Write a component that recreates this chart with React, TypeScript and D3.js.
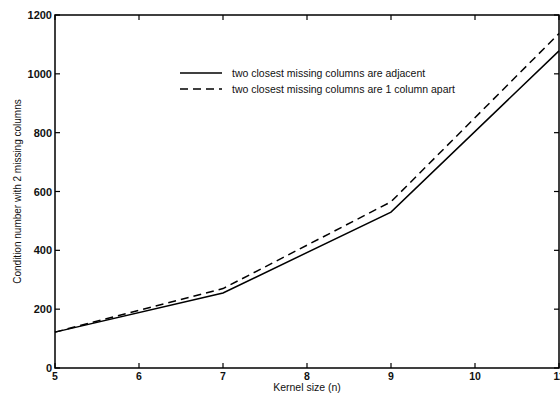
import React from "react";
import * as d3 from "d3";

const kernelSizes = [5, 7, 9, 11];
const adjacent = [122, 255, 530, 1078];
const oneApart = [122, 270, 565, 1137];
const xTicks = [5, 6, 7, 8, 9, 10, 11];
const yTicks = [0, 200, 400, 600, 800, 1000, 1200];
const seriesNames = [
  "two closest missing columns are adjacent",
  "two closest missing columns are 1 column apart",
];

const W = 560;
const H = 395;
const left = 55;
const right = 559;
const top = 15;
const bottom = 368;

export default function App() {
  const x = d3.scaleLinear().domain([5, 11]).range([left, right]);
  const y = d3.scaleLinear().domain([0, 1200]).range([bottom, top]);
  const line = d3
    .line<number>()
    .x((_, i) => x(kernelSizes[i]))
    .y((d) => y(d));
  const font = "'Liberation Sans', Arial, Helvetica, sans-serif";
  const tl = 5;
  return (
    <svg
      width={W}
      height={H}
      style={{ position: "absolute", left: 0, top: 0, background: "#fff" }}
      fontFamily={font}
    >
      <rect x={0} y={0} width={W} height={H} fill="#fff" />
      <rect
        x={left}
        y={top}
        width={right - left}
        height={bottom - top}
        fill="none"
        stroke="#000"
        strokeWidth={1.5}
      />
      {xTicks.map((t) => (
        <g key={"x" + t}>
          <line x1={x(t)} x2={x(t)} y1={bottom} y2={bottom - tl} stroke="#000" strokeWidth={1.2} />
          <line x1={x(t)} x2={x(t)} y1={top} y2={top + tl} stroke="#000" strokeWidth={1.2} />
          <text
            x={x(t)}
            y={bottom + 12}
            textAnchor="middle"
            fontSize={10.5}
            fontWeight="bold"
            fill="#111"
          >
            {t}
          </text>
        </g>
      ))}
      {yTicks.map((t) => (
        <g key={"y" + t}>
          <line x1={left} x2={left + tl} y1={y(t)} y2={y(t)} stroke="#000" strokeWidth={1.2} />
          <line x1={right} x2={right - tl} y1={y(t)} y2={y(t)} stroke="#000" strokeWidth={1.2} />
          <text
            x={left - 3}
            y={y(t) + 4}
            textAnchor="end"
            fontSize={11}
            fontWeight="bold"
            fill="#111"
          >
            {t}
          </text>
        </g>
      ))}
      <path d={line(adjacent) || ""} fill="none" stroke="#000" strokeWidth={1.5} />
      <path
        d={line(oneApart) || ""}
        fill="none"
        stroke="#000"
        strokeWidth={1.5}
        strokeDasharray="8,5"
      />
      <line x1={180} x2={222} y1={73} y2={73} stroke="#000" strokeWidth={1.5} />
      <line x1={180} x2={222} y1={89} y2={89} stroke="#000" strokeWidth={1.5} strokeDasharray="8,5" />
      <text x={232} y={77} fontSize={10.5} fill="#111">
        {seriesNames[0]}
      </text>
      <text x={232} y={93} fontSize={10.5} fill="#111">
        {seriesNames[1]}
      </text>
      <text
        x={(left + right) / 2}
        y={391}
        textAnchor="middle"
        fontSize={10.5}
        fill="#111"
      >
        Kernel size (n)
      </text>
      <text
        transform={`translate(21, ${(top + bottom) / 2}) rotate(-90)`}
        textAnchor="middle"
        fontSize={10}
        fill="#111"
      >
        Condition number with 2 missing columns
      </text>
    </svg>
  );
}
